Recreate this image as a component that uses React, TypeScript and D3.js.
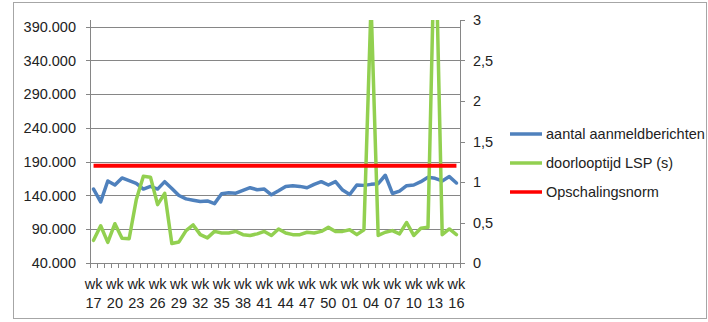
import React from "react";
import * as d3 from "d3";

const weeks: string[] = [
  "17","18","19","20","21","22","23","24","25","26","27","28","29","30","31","32","33","34",
  "35","36","37","38","39","40","41","42","43","44","45","46","47","48","49","50","51","52",
  "01","02","03","04","05","06","07","08","09","10","11","12","13","14","15","16",
];

const aanmeldberichten: number[] = [
  149500,130500,161500,155500,166000,162000,158000,149500,153500,149500,160500,150500,
  140000,135000,133000,131000,132000,128000,142500,144000,143500,147500,151500,148500,
  149500,141000,147000,153500,154500,153500,151500,156500,160500,155500,160500,148000,
  141500,155500,155000,156500,157500,170000,143000,146500,154500,155500,160500,167000,
  165500,161500,168000,158500,
];

const doorlooptijd: number[] = [
  0.28,0.46,0.255,0.485,0.305,0.30,0.78,1.07,1.06,0.72,0.86,0.24,0.26,0.40,0.47,0.35,
  0.31,0.39,0.37,0.37,0.39,0.35,0.34,0.36,0.39,0.34,0.42,0.37,0.35,0.35,0.38,0.37,
  0.39,0.44,0.39,0.39,0.41,0.35,0.41,3.2,0.34,0.38,0.40,0.36,0.50,0.34,0.43,0.44,
  4.3,0.35,0.42,0.35,
];

const opschalingsnorm = 1.2;

const leftTicks: number[] = [40000, 90000, 140000, 190000, 240000, 290000, 340000, 390000];
const rightTicks: number[] = [0, 0.5, 1, 1.5, 2, 2.5, 3];

const seriesNames: string[] = ["aantal aanmeldberichten", "doorlooptijd LSP (s)", "Opschalingsnorm"];
const seriesColors: string[] = ["#4F81BD", "#92D050", "#FF0000"];

const W = 708, H = 322;
const PL = 90, PR = 460, PT = 20, PB = 263;
const FONT = "'Liberation Sans', Arial, sans-serif";
const FS = 14.5;
const GRID = "#868686";

const nl = d3.formatLocale({ decimal: ",", thousands: ".", grouping: [3], currency: ["€", ""] });
const fmtLeft = nl.format(",.0f");
const fmtRight = nl.format(".1~f");

export default function App() {
  const x = d3.scaleBand<string>().domain(weeks).range([PL, PR]).padding(0);
  const cx = (w: string) => (x(w) as number) + x.bandwidth() / 2;
  const yL = d3.scaleLinear().domain([40000, 400000]).range([PB, PT]);
  const yR = d3.scaleLinear().domain([0, 3]).range([PB, PT]);

  const lineL = d3.line<number>().x((_, i) => cx(weeks[i])).y((d) => yL(d));
  const lineR = d3.line<number>().x((_, i) => cx(weeks[i])).y((d) => yR(d));
  const normPts = weeks.map(() => opschalingsnorm);

  const boundaries = d3.range(weeks.length + 1).map((i) => PL + i * x.step());

  return (
    <svg width={W} height={H} style={{ position: "absolute", left: 0, top: 0, background: "#fff" }}
      fontFamily={FONT} fontSize={FS}>
      <defs>
        <clipPath id="plot">
          <rect x={PL} y={PT} width={PR - PL} height={PB - PT} />
        </clipPath>
      </defs>
      <rect x={13.5} y={2.5} width={693} height={316} fill="#fff" stroke="#a6a6a6" strokeWidth={1} />

      {/* gridlines */}
      {leftTicks.filter((t) => t > 40000).map((t) => (
        <line key={t} x1={PL} x2={PR} y1={Math.round(yL(t)) + 0.5} y2={Math.round(yL(t)) + 0.5} stroke={GRID} strokeWidth={1} />
      ))}

      {/* left axis */}
      <line x1={PL + 0.5} x2={PL + 0.5} y1={PT} y2={PB} stroke={GRID} />
      {leftTicks.map((t) => (
        <g key={t}>
          <line x1={PL - 4} x2={PL} y1={Math.round(yL(t)) + 0.5} y2={Math.round(yL(t)) + 0.5} stroke={GRID} />
          <text x={76} y={yL(t)} dy="0.35em" textAnchor="end" fill="#222">{fmtLeft(t)}</text>
        </g>
      ))}

      {/* right axis */}
      <line x1={PR + 0.5} x2={PR + 0.5} y1={PT} y2={PB} stroke={GRID} />
      {rightTicks.map((t) => (
        <g key={t}>
          <line x1={PR} x2={PR + 5} y1={Math.round(yR(t)) + 0.5} y2={Math.round(yR(t)) + 0.5} stroke={GRID} />
          <text x={473} y={yR(t)} dy="0.35em" textAnchor="start" fill="#222">{fmtRight(t)}</text>
        </g>
      ))}

      {/* x axis */}
      <line x1={PL} x2={PR} y1={PB + 0.5} y2={PB + 0.5} stroke={GRID} />
      {boundaries.map((b, i) => (
        <line key={i} x1={Math.round(b) + 0.5} x2={Math.round(b) + 0.5} y1={PB} y2={PB + 5} stroke={GRID} />
      ))}
      {weeks.map((w, i) =>
        i % 3 === 0 ? (
          <text key={w} x={cx(w)} textAnchor="middle" fill="#222">
            <tspan x={cx(w)} y={289}>wk</tspan>
            <tspan x={cx(w)} y={308}>{w}</tspan>
          </text>
        ) : null
      )}

      {/* series */}
      <g clipPath="url(#plot)">
        <path d={lineL(aanmeldberichten) || ""} fill="none" stroke={seriesColors[0]} strokeWidth={3.5} strokeLinejoin="round" strokeLinecap="round" />
        <path d={lineR(doorlooptijd) || ""} fill="none" stroke={seriesColors[1]} strokeWidth={3.5} strokeLinejoin="round" strokeLinecap="round" />
        <path d={lineR(normPts) || ""} fill="none" stroke={seriesColors[2]} strokeWidth={4} strokeLinejoin="round" />
      </g>

      {/* legend */}
      {seriesNames.map((n, i) => (
        <g key={n}>
          <line x1={510} x2={542} y1={134 + i * 29} y2={134 + i * 29} stroke={seriesColors[i]} strokeWidth={3.5} />
          <text x={546} y={134 + i * 29} dy="0.35em" fill="#222">{n}</text>
        </g>
      ))}
    </svg>
  );
}
